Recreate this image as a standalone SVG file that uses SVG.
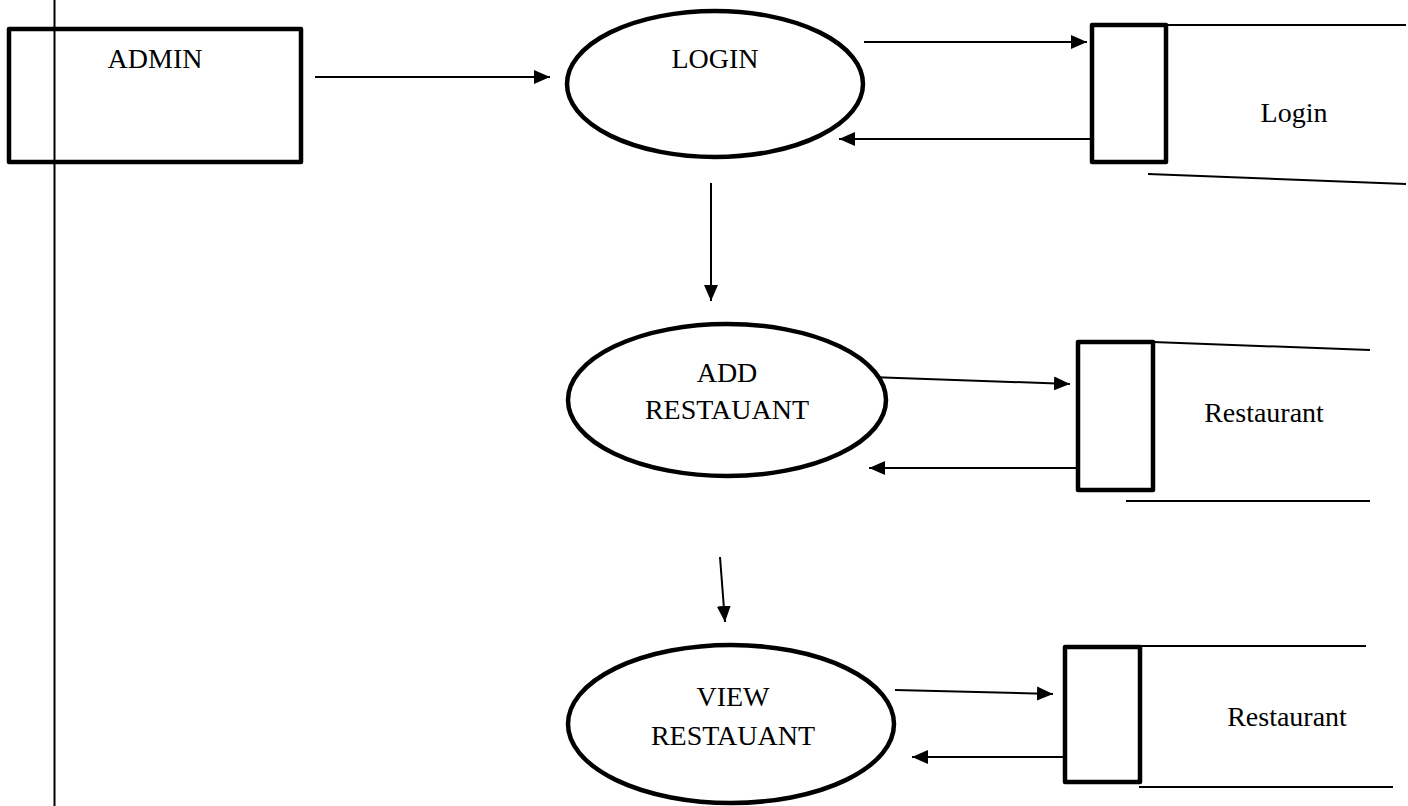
<svg xmlns="http://www.w3.org/2000/svg" width="1408" height="806" viewBox="0 0 1408 806">
<style>
.box{fill:#fff;stroke:#000;stroke-width:4.5;stroke-linejoin:round}
.proc{fill:#fff;stroke:#000;stroke-width:4.5}
.ln{fill:none;stroke:#000;stroke-width:2}
.flow{fill:none;stroke:#000;stroke-width:2;marker-end:url(#ah)}
.t{font-family:"Liberation Serif","Times New Roman",serif;font-size:28px;fill:#000;text-anchor:middle}
</style>
<defs>
<marker id="ah" markerUnits="userSpaceOnUse" markerWidth="17" markerHeight="16" refX="16" refY="8" orient="auto">
<path d="M0,1 L16,8 L0,15 Z" fill="#000"/>
</marker>
</defs>
<rect width="1408" height="806" fill="#fff"/>
<g id="connectors">
<line class="flow" x1="315" y1="77" x2="550" y2="77"/>
<line class="flow" x1="864" y1="42" x2="1087" y2="42"/>
<line class="flow" x1="1090" y1="139" x2="839" y2="139"/>
<line class="flow" x1="711" y1="183" x2="711" y2="301"/>
<line class="flow" x1="870" y1="377" x2="1070" y2="384"/>
<line class="flow" x1="1077" y1="468" x2="869" y2="468"/>
<line class="flow" x1="720" y1="557" x2="725" y2="622"/>
<line class="flow" x1="895" y1="690" x2="1053" y2="694"/>
<line class="flow" x1="1065" y1="757" x2="912" y2="757"/>
</g>
<g id="border">
<line class="ln" x1="54.5" y1="0" x2="54.5" y2="806"/>
</g>
<g id="admin">
<rect class="box" x="9" y="29" width="292" height="133" fill="none"/>
<line class="ln" x1="54.5" y1="29" x2="54.5" y2="162"/>
<text class="t" x="155" y="68">ADMIN</text>
</g>
<g id="login">
<ellipse class="proc" cx="715" cy="84" rx="148" ry="73"/>
<text class="t" x="715" y="68">LOGIN</text>
</g>
<g id="store-login">
<line class="ln" x1="1166" y1="25" x2="1406" y2="25"/>
<line class="ln" x1="1148" y1="174" x2="1406" y2="184"/>
<rect class="box" x="1092" y="25" width="74" height="137"/>
<text class="t" x="1294" y="122">Login</text>
</g>
<g id="add-restaurant">
<ellipse class="proc" cx="727" cy="400" rx="159" ry="76"/>
<text class="t" x="727" y="382">ADD</text>
<text class="t" x="727" y="419">RESTAUANT</text>
</g>
<g id="store-restaurant-1">
<line class="ln" x1="1153" y1="342" x2="1370" y2="350"/>
<line class="ln" x1="1126" y1="501" x2="1370" y2="501"/>
<rect class="box" x="1078" y="342" width="75" height="148"/>
<text class="t" x="1264" y="422">Restaurant</text>
</g>
<g id="view-restaurant">
<ellipse class="proc" cx="731" cy="724" rx="163" ry="79"/>
<text class="t" x="733" y="706">VIEW</text>
<text class="t" x="733" y="745">RESTAUANT</text>
</g>
<g id="store-restaurant-2">
<line class="ln" x1="1141" y1="646" x2="1366" y2="646"/>
<line class="ln" x1="1139" y1="787" x2="1393" y2="787"/>
<rect class="box" x="1065" y="647" width="75" height="135"/>
<text class="t" x="1287" y="726">Restaurant</text>
</g>
</svg>
